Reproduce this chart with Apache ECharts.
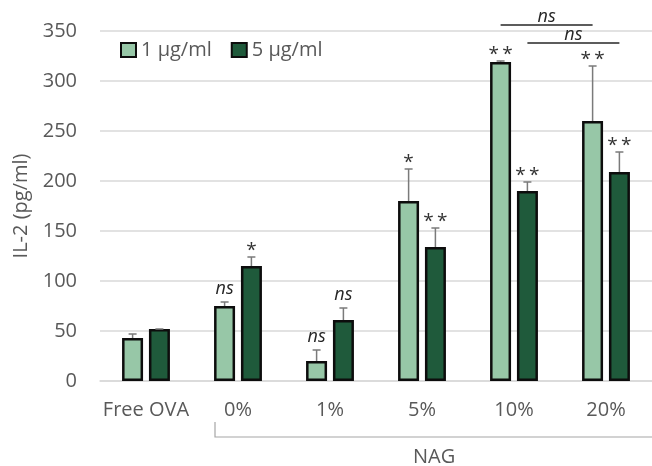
<!DOCTYPE html>
<html>
<head>
<meta charset="utf-8">
<script src="https://cdn.jsdelivr.net/npm/echarts@6/dist/echarts.min.js"></script>
<style>
  html, body { margin: 0; padding: 0; background: #fff; }
  #chart { width: 652px; height: 466px; }
</style>
</head>
<body>
<div id="chart"></div>
<script>
// groups along the x axis
const categories = ['Free OVA', '0%', '1%', '5%', '10%', '20%'];
const yTicks = [0, 50, 100, 150, 200, 250, 300, 350];

// 1 µg/ml
const low = [43, 75, 20, 180, 319, 260];
const lowErrTop = [47, 79, 31, 212, 320, 315];
const lowMarks = ['', 'ns', 'ns', '*', '**', '**'];

// 5 µg/ml
const high = [52, 115, 61, 134, 190, 209];
const highErrTop = [52, 124, 73, 153, 199, 229];
const highMarks = ['', '*', 'ns', '**', '**', '**'];

// ns brackets between 10% and 20%: [from, to, level, which bar]
const brackets = [
  [4, 5, 356, 'low'],
  [4, 5, 338, 'high'],
];

const FONT = '"Open Sans", sans-serif';
const BAR_W = 21;
const BAR_OFF = 13.4; // half of bar + gap

const chart = echarts.init(document.getElementById('chart'));

function errSeries(name, vals, tops, marks, offset) {
  return {
    name: name + ' err',
    type: 'custom',
    z: 5,
    silent: true,
    data: vals.map((v, i) => [i, v, tops[i]]),
    renderItem: (params, api) => {
      const cat = api.value(0);
      const base = api.coord([cat, api.value(1)]);
      const top = api.coord([cat, api.value(2)]);
      const x = base[0] + offset;
      const mark = marks[params.dataIndex];
      const children = [
        { type: 'line', shape: { x1: x, y1: base[1], x2: x, y2: top[1] },
          style: { stroke: '#7a7a7a', lineWidth: 1.5 } },
        { type: 'line', shape: { x1: x - 4, y1: top[1], x2: x + 4, y2: top[1] },
          style: { stroke: '#7a7a7a', lineWidth: 1.5 } },
      ];
      if (mark) {
        const isNs = mark === 'ns';
        children.push({
          type: 'text',
          style: {
            x: x, y: isNs ? top[1] - 13 : top[1] - 6,
            text: isNs ? mark : mark.split('').join('\u2009'),
            align: 'center', verticalAlign: 'middle',
            font: (isNs ? 'italic 18px ' : '19px ') + FONT,
            fill: isNs ? '#262626' : '#333333',
          },
        });
      }
      return { type: 'group', children };
    },
  };
}

chart.setOption({
  backgroundColor: '#fff',
  animation: false,
  grid: { left: 100, top: 31, width: 564, height: 350 },
  legend: {
    left: 115, top: 35,
    itemWidth: 15, itemHeight: 14, itemGap: 19,
    icon: 'rect',
    textStyle: { color: '#595959', fontSize: 20, fontFamily: FONT },
    data: ['1 µg/ml', '5 µg/ml'],
  },
  xAxis: {
    type: 'category',
    data: categories,
    axisLine: { lineStyle: { color: '#d9d9d9', width: 1.5 } },
    axisTick: { show: false },
    axisLabel: { color: '#595959', fontSize: 20, fontFamily: FONT, margin: 19, interval: 0 },
  },
  yAxis: {
    type: 'value',
    min: yTicks[0], max: yTicks[yTicks.length - 1], interval: 50,
    name: 'IL-2 (pg/ml)',
    nameLocation: 'middle',
    nameGap: 60,
    nameTextStyle: { color: '#595959', fontSize: 20, fontFamily: FONT },
    axisLine: { show: false },
    axisTick: { show: false },
    axisLabel: { color: '#595959', fontSize: 20, fontFamily: FONT, margin: 23 },
    splitLine: { lineStyle: { color: '#d9d9d9', width: 1.5 } },
  },
  series: [
    {
      name: '1 µg/ml', type: 'bar', barWidth: BAR_W, barGap: '28%',
      itemStyle: { color: '#97c7a7', borderColor: '#0d0d0d', borderWidth: 2.5 },
      data: low,
    },
    {
      name: '5 µg/ml', type: 'bar', barWidth: BAR_W, barGap: '28%',
      itemStyle: { color: '#1f5a3b', borderColor: '#0d0d0d', borderWidth: 2.5 },
      data: high,
    },
    errSeries('1 µg/ml', low, lowErrTop, lowMarks, -BAR_OFF),
    errSeries('5 µg/ml', high, highErrTop, highMarks, BAR_OFF),
    {
      name: 'brackets', type: 'custom', z: 5, silent: true,
      data: brackets.map((b) => [b[0], b[1], b[2]]),
      renderItem: (params, api) => {
        const off = brackets[params.dataIndex][3] === 'low' ? -BAR_OFF : BAR_OFF;
        const a = api.coord([api.value(0), api.value(2)]);
        const b = api.coord([api.value(1), api.value(2)]);
        const x1 = a[0] + off, x2 = b[0] + off;
        return {
          type: 'group',
          children: [
            { type: 'line', shape: { x1: x1, y1: a[1], x2: x2, y2: a[1] },
              style: { stroke: '#262626', lineWidth: 1.5 } },
            { type: 'text', style: { x: (x1 + x2) / 2, y: a[1] - 8, text: 'ns',
              align: 'center', verticalAlign: 'middle',
              font: 'italic 18px ' + FONT, fill: '#262626' } },
          ],
        };
      },
    },
  ],
  graphic: [
    { type: 'polyline', shape: { points: [[215, 422], [215, 437], [652, 437]] },
      style: { stroke: '#a6a6a6', lineWidth: 1.2, fill: null } },
    { type: 'text', left: 413, top: 447,
      style: { text: 'NAG', fill: '#595959', font: '20px ' + FONT } },
  ],
});
</script>
</body>
</html>
